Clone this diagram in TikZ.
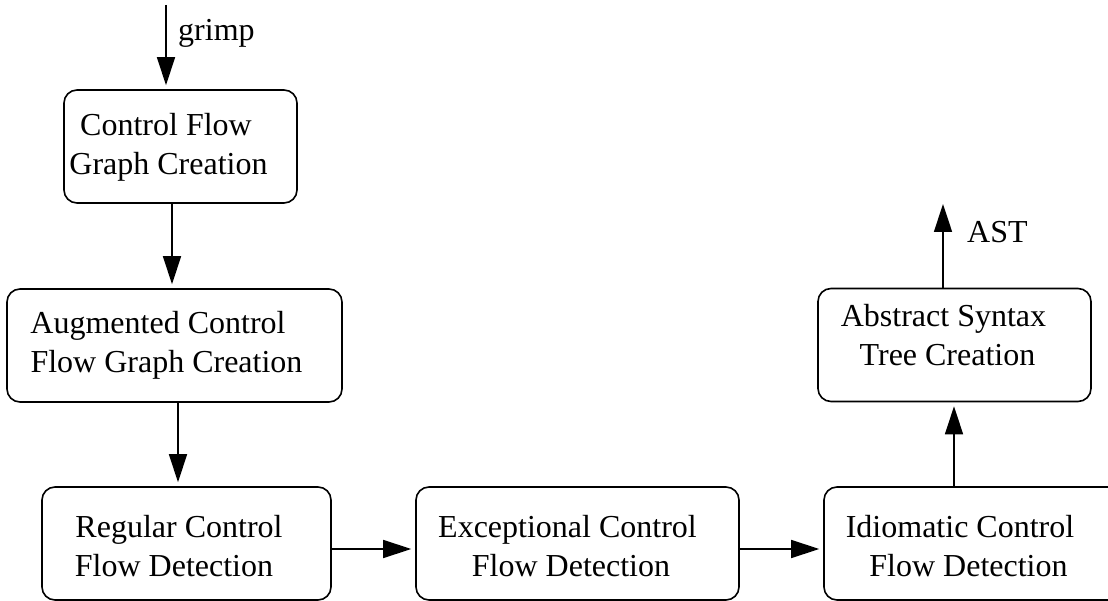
\documentclass[tikz,border=0pt]{standalone}
\usepackage{fontspec}
\setmainfont{Liberation Serif}
\usetikzlibrary{arrows.meta}
\begin{document}
\begin{tikzpicture}[x=1pt,y=-1pt,
  stage/.style={draw, line width=1.6pt, rounded corners=13pt, inner sep=0pt,
                minimum height=113pt},
  lbl/.style={anchor=base, inner sep=0pt, font=\fontsize{32}{40}\selectfont},
  flow/.style={line width=1.6pt, -{Triangle[length=28pt,width=18pt]}, shorten >=4pt}]
\useasboundingbox (0,0) rectangle (1108,601);

% processing stages
\node[stage, minimum width=233pt] (cfg)  at (180.5,146.5) {};
\node[stage, minimum width=335pt] (acfg) at (174.5,345.5) {};
\node[stage, minimum width=289pt] (rcf)  at (186.5,543.5) {};
\node[stage, minimum width=323pt] (ecf)  at (577.5,543.5) {};
\node[stage, minimum width=304pt] (icf)  at (976,543.5) {};
\node[stage, minimum width=273pt] (ast)  at (954.5,345) {};

% stage captions
\node[lbl] (cfgA)  at (166,136)   {Control Flow};
\node[lbl] (cfgB)  at (168.5,175) {Graph Creation};
\node[lbl] (acfgA) at (158,334)   {Augmented Control};
\node[lbl] (acfgB) at (166.5,373) {Flow Graph Creation};
\node[lbl] (rcfA)  at (179,537)   {Regular Control};
\node[lbl] (rcfB)  at (174,576)   {Flow Detection};
\node[lbl] (ecfA)  at (567.5,537) {Exceptional Control};
\node[lbl] (ecfB)  at (571,576)   {Flow Detection};
\node[lbl] (icfA)  at (960,537)   {Idiomatic Control};
\node[lbl] (icfB)  at (968.5,576) {Flow Detection};
\node[lbl] (astA)  at (943.5,327) {Abstract Syntax};
\node[lbl] (astB)  at (947.5,366) {Tree Creation};

% input and output ends
\coordinate (in)  at (166,5);
\coordinate (out) at (943,204);
\node[lbl, anchor=base west] (grimp) at (178,41)  {grimp};
\node[lbl, anchor=base west] (astout) at (967,243) {AST};

% connector columns
\coordinate (c1) at (172,0);
\coordinate (c2) at (178,0);
\coordinate (c3) at (954,0);
\coordinate (r1) at (0,549);

\draw[flow] (in) -- (in |- cfg.north);
\draw[flow] (cfg.south -| c1) -- (acfg.north -| c1);
\draw[flow] (acfg.south -| c2) -- (rcf.north -| c2);
\draw[flow] (rcf.east |- r1) -- (ecf.west |- r1);
\draw[flow] (ecf.east |- r1) -- (icf.west |- r1);
\draw[flow] (icf.north -| c3) -- (ast.south -| c3);
\draw[flow, shorten >=0pt] (ast.north -| out) -- (out);
\end{tikzpicture}
\end{document}
